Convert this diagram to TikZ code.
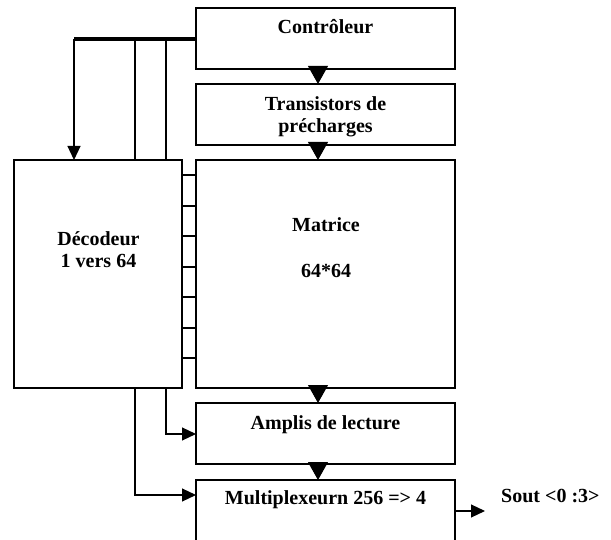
\documentclass[tikz,border=0pt]{standalone}
\usepackage{fontspec}
\setmainfont{Liberation Serif}
\usetikzlibrary{arrows.meta}
\begin{document}
\begin{tikzpicture}[x=1pt,y=-1pt,
  box/.style={draw,line width=1.3pt,inner sep=0pt,outer sep=0pt,anchor=north west},
  lbl/.style={font=\fontsize{20}{22}\selectfont\bfseries,inner sep=0pt,anchor=base},
  wire/.style={line width=1.1pt},
  bigarrow/.style={wire,-{Triangle[length=18pt,width=20pt]}},
  smallarrow/.style={wire,-{Triangle[length=14pt,width=13pt]}}]
\useasboundingbox (0,0) rectangle (611,540);
% boxes
\node[box,minimum width=259pt,minimum height=61pt] (ctrl) at (196,8) {};
\node[box,minimum width=259pt,minimum height=61pt] (trans) at (196,84) {};
\node[box,minimum width=259pt,minimum height=228pt] (mat) at (196,160) {};
\node[box,minimum width=168pt,minimum height=228pt] (dec) at (14,160) {};
\node[box,minimum width=259pt,minimum height=61pt] (amp) at (196,403) {};
\node[box,minimum width=259pt,minimum height=62pt] (mux) at (196,480) {};
% texts
\node[lbl] (tctrl) at (325.5,34) {Contrôleur};
\node[lbl] (ttrans1) at (325.5,110.5) {Transistors de};
\node[lbl] (ttrans2) at (325.5,132.5) {précharges};
\node[lbl] (tdec1) at (98.5,245.5) {Décodeur};
\node[lbl] (tdec2) at (98.5,268) {1 vers 64};
\node[lbl] (tmat1) at (326,231.5) {Matrice};
\node[lbl] (tmat2) at (326,278) {64*64};
\node[lbl] (tamp) at (325.5,429) {Amplis de lecture};
\node[lbl] (tmux) at (325.5,504.5) {Multiplexeurn 256 => 4};
\node[lbl,anchor=base west] (sout) at (501,502) {Sout <0 :3>};
% vertical chain arrows
\coordinate (ax) at (318,0);
\draw[bigarrow] (ctrl.south -| ax) -- (trans.north -| ax);
\draw[bigarrow] (trans.south -| ax) -- (mat.north -| ax);
\draw[bigarrow] (mat.south -| ax) -- (amp.north -| ax);
\draw[bigarrow] (amp.south -| ax) -- (mux.north -| ax);
% bus
\coordinate (b0) at (74,39);
\coordinate (v1) at (135,39);
\coordinate (v2) at (166,39);
\draw[line width=4.5pt] (b0) -- (b0 -| ctrl.west);
\draw[smallarrow] (b0) -- (b0 |- dec.north);
\draw[wire] (v1) -- (v1 |- dec.north);
\draw[wire] (v2) -- (v2 |- dec.north);
% decoder to amp / mux
\coordinate (ya) at (0,434);
\coordinate (ym) at (0,495);
\draw[smallarrow] (dec.south -| v2) |- (amp.west |- ya);
\draw[smallarrow] (dec.south -| v1) |- (mux.west |- ym);
% word lines
\foreach \y in {175,206,236,267,297,328,358}{
  \coordinate (t) at (0,\y);
  \draw[wire] (dec.east |- t) -- (mat.west |- t);
}
% output
\coordinate (so) at (485,511);
\draw[smallarrow] (mux.east |- so) -- (so);
\end{tikzpicture}
\end{document}
